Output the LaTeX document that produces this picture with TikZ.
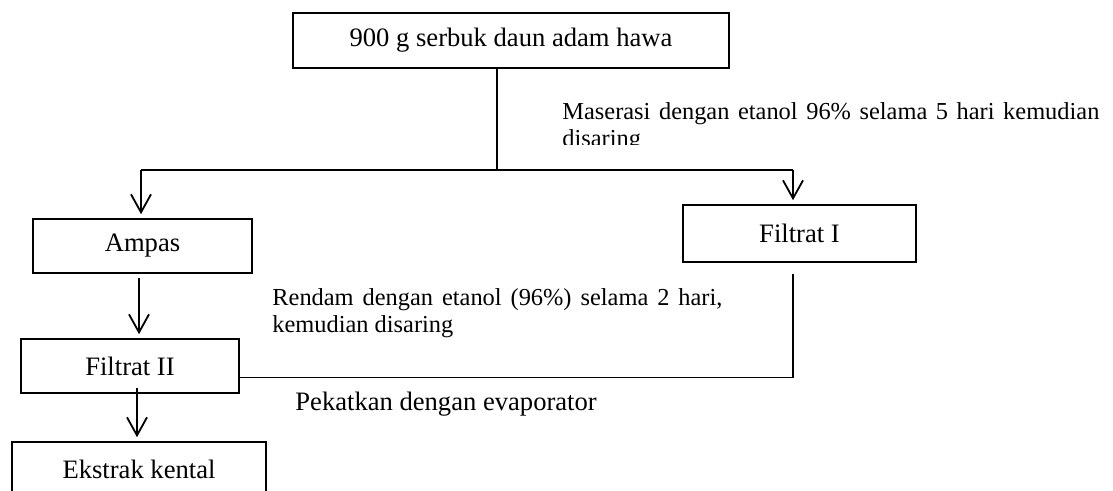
\documentclass[tikz,border=0pt]{standalone}
\usepackage{fontspec}
\setmainfont{Liberation Serif}
\usetikzlibrary{arrows.meta}
\begin{document}
\begin{tikzpicture}[x=0.5pt,y=-0.5pt,
  font=\fontsize{13.3}{13.5}\selectfont,
  box/.style={draw,line width=0.8pt,inner sep=0pt,align=center},
  link/.style={line width=0.9pt},
  arr/.style={link,-{Straight Barb[length=9pt,width=10pt,line width=0.9pt]},shorten >=2pt},
  note/.style={inner sep=0pt,anchor=base west,font=\fontsize{12.2}{13.5}\selectfont}]
\useasboundingbox[fill=white] (0,0) rectangle (1113,491);
% boxes
\node[box,minimum width=218pt,minimum height=27.5pt] (top) at (511,40.5) {900 g serbuk daun adam hawa};
\node[box,minimum width=109.5pt,minimum height=27pt] (amp) at (142.5,246) {Ampas};
\node[box,minimum width=116.5pt,minimum height=28.5pt] (f1) at (799.5,233.5) {Filtrat I};
\node[box,minimum width=109pt,minimum height=27pt] (f2) at (130,366) {Filtrat II};
\node[box,minimum width=127pt,minimum height=27.5pt] (ek) at (139,469.5) {Ekstrak kental};
% notes
\begin{scope}
\clip (540,60) rectangle (1113,145);
\node[note] (n1a) at (562,119.5) {\makebox[268.5pt][s]{Maserasi dengan etanol 96\% selama 5 hari kemudian}};
\node[note] (n1b) at (562,146.5) {disaring};
\end{scope}
\node[note] (n2a) at (272,306) {\makebox[225pt][s]{Rendam dengan etanol (96\%) selama 2 hari,}};
\node[note] (n2b) at (272,333) {kemudian disaring};
\node[inner sep=0pt,anchor=base west] (n3) at (295,410) {Pekatkan dengan evaporator};
% connectors
\coordinate (j) at (497,170);
\coordinate (bl) at (141,170);
\coordinate (br) at (793,170);
\draw[link] (top.south -| j) -- (j);
\draw[link] (bl) -- (br);
\draw[arr] (bl) -- (bl |- amp.north);
\draw[arr] (br) -- (br |- f1.north);
\coordinate (a2) at (139,300);
\draw[arr,shorten <=2pt] (amp.south -| a2) -- (f2.north -| a2);
\coordinate (m) at (793,377.5);
\draw[link] ([yshift=-5.5pt]f1.south -| m) -- (m) -- (m -| f2.east);
\coordinate (e1) at (137,388);
\draw[arr] (e1) -- (e1 |- ek.north);
\end{tikzpicture}
\end{document}
